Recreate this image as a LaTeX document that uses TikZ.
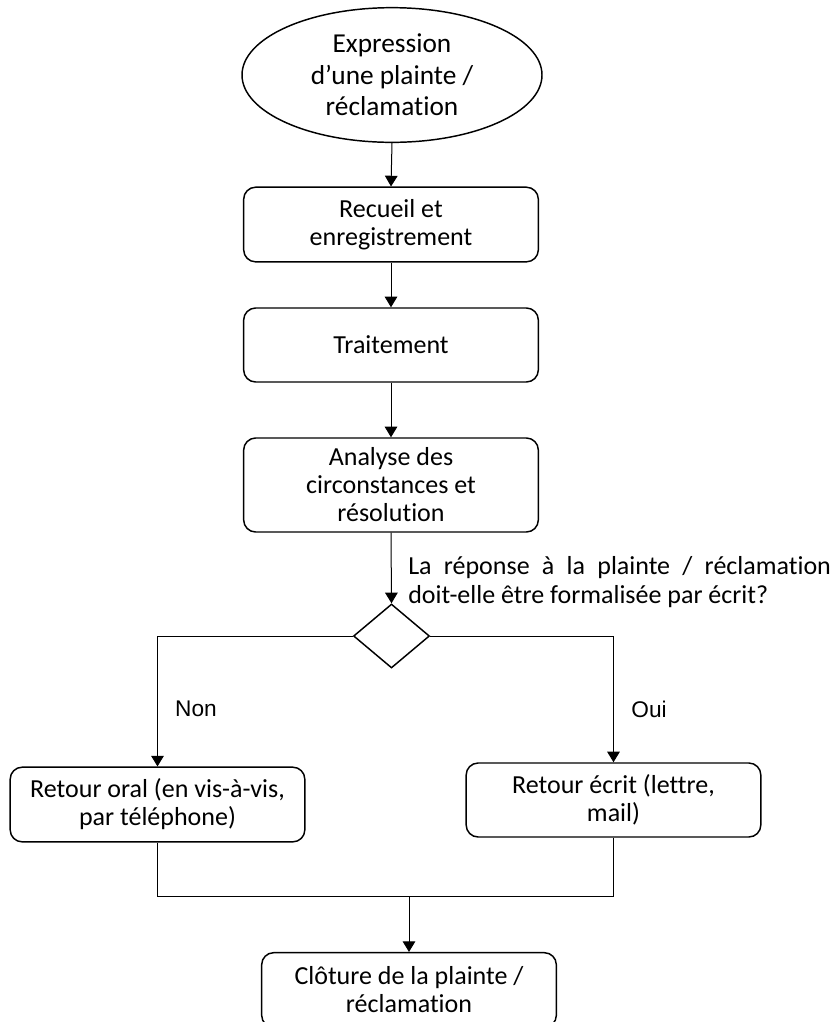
\documentclass[tikz,border=0pt]{standalone}
\usepackage{fontspec}
\setmainfont[Ligatures={NoCommon,NoRequired,NoContextual}]{Carlito}
\newfontfamily\labfont{Liberation Sans}
\usetikzlibrary{shapes.geometric,arrows.meta}
\begin{document}
\begin{tikzpicture}[x=0.75pt,y=-0.75pt,
  stepbox/.style={draw, line width=1.1pt, rounded corners=9pt, minimum width=221pt, inner sep=0pt, align=center, font=\fontsize{19.5}{21}\selectfont},
  startnode/.style={draw, ellipse, line width=1.1pt, minimum width=225pt, minimum height=101pt, inner sep=0pt, align=center, font=\fontsize{20.5}{23.5}\selectfont},
  decision/.style={draw, diamond, line width=1.1pt, minimum width=57pt, minimum height=48pt, inner sep=0pt},
  conn/.style={line width=0.75pt},
  arr/.style={conn, -{Triangle[width=9.5pt,length=8pt]}},
  branchlab/.style={font=\labfont\fontsize{17}{20}\selectfont, inner sep=0pt}]
\useasboundingbox (0,0) rectangle (831,1022);
\clip (0,0) rectangle (831,1022);
\node[startnode] (start) at (392,75) {Expression\\d’une plainte /\\réclamation};
\node[stepbox, minimum height=56pt] (recueil) at (391,224.5) {Recueil et\\enregistrement};
\node[stepbox, minimum height=55.5pt] (trait) at (391,345) {Traitement};
\node[stepbox, minimum height=70.5pt] (analyse) at (391,485) {Analyse des\\circonstances et\\résolution};
\node[decision] (dec) at (391.5,636) {};
\node[anchor=west, inner sep=0pt, align=left, font=\fontsize{19.5}{21.75}\selectfont] (question) at (408,582.5) {\hbox to 317pt{La\hfil réponse\hfil à\hfil la\hfil plainte\hfil /\hfil réclamation}\\doit-elle être formalisée par écrit?};
\node[stepbox, minimum height=56pt] (oral) at (157.5,804.5) {Retour oral (en vis-à-vis,\\par téléphone)};
\node[stepbox, minimum height=55.5pt] (ecrit) at (613.5,800) {Retour écrit (lettre,\\mail)};
\node[stepbox, minimum height=56pt] (cloture) at (409,990) {Clôture de la plainte /\\réclamation};
\node[branchlab] (non) at (196,709) {Non};
\node[branchlab] (oui) at (649,709) {Oui};
\coordinate (join) at (409,896);
\draw[arr] (start.south) -- (recueil.north);
\draw[arr] (recueil.south) -- (trait.north);
\draw[arr] (trait.south) -- (analyse.north);
\draw[arr] (analyse.south) -- (dec.north);
\draw[arr] (dec.west) -| (oral.north);
\draw[arr] (dec.east) -| (ecrit.north);
\draw[conn] (oral.south) |- (join);
\draw[conn] (ecrit.south) |- (join);
\draw[arr] (join) -- (cloture.north);
\end{tikzpicture}
\end{document}
